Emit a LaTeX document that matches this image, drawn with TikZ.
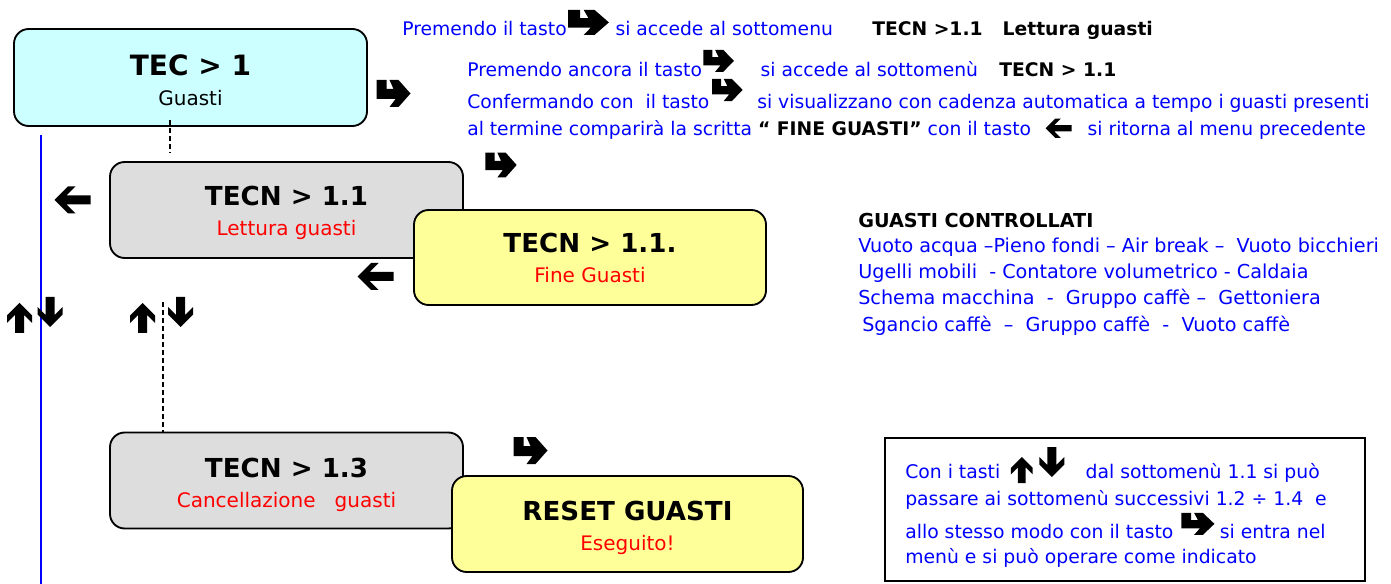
\documentclass[tikz,border=0pt]{standalone}
\usepackage{fontspec}
\setmainfont{DejaVu Sans}
\definecolor{cyanF}{HTML}{CCFFFF}
\definecolor{grayF}{HTML}{DDDDDD}
\definecolor{yelF}{HTML}{FFFF99}
\definecolor{bl}{HTML}{0000FF}
\definecolor{rd}{HTML}{FF0000}
\def\hookpath{(0,0)--(10,0)--(10,9)--(17,9)--(13,0)--(22,0)--(34,13.5)--(22,27)--(13,27)--(19,19)--(0,19)--cycle}
\def\uppath{(0,0)--(12.5,12.5)--(12.5,20)--(4.5,12)--(4.5,30)--(-4.5,30)--(-4.5,12)--(-12.5,20)--(-12.5,12.5)--cycle}
\def\downpath{(0,30)--(12.5,17.5)--(12.5,10)--(4.5,18)--(4.5,0)--(-4.5,0)--(-4.5,18)--(-12.5,10)--(-12.5,17.5)--cycle}
\def\leftpath{(0,13.5)--(13.5,0)--(21,0)--(12,9)--(36,9)--(36,18)--(12,18)--(21,27)--(13.5,27)--cycle}
\newcommand\hookicon[1][]{\tikz[x=0.75pt,y=-0.75pt,#1]\fill[black] \hookpath;}
\newcommand\upicon[1][]{\tikz[x=0.75pt,y=-0.75pt,#1]\fill[black] \uppath;}
\newcommand\downicon[1][]{\tikz[x=0.75pt,y=-0.75pt,#1]\fill[black] \downpath;}
\newcommand\lefticon[1][]{\tikz[x=0.75pt,y=-0.75pt,#1]\fill[black] \leftpath;}
\begin{document}
\begin{tikzpicture}[x=0.75pt,y=-0.75pt,
  box/.style={draw=black, line width=1.4pt, rounded corners=11pt, inner sep=0pt},
  ttl/.style={anchor=base, inner sep=0pt, font=\fontsize{19.6}{22}\selectfont\bfseries},
  sub/.style={anchor=base, inner sep=0pt, font=\fontsize{15}{18}\selectfont},
  txt/.style={anchor=base west, inner sep=0pt, text=bl, font=\fontsize{14.05}{17}\selectfont},
  txtb/.style={anchor=base west, inner sep=0pt, text=black, font=\fontsize{14.05}{17}\selectfont\bfseries},
  gtxt/.style={txt, font=\fontsize{14.4}{17}\selectfont},
  ntxt/.style={txt, font=\fontsize{14.1}{17}\selectfont},
  dash line/.style={draw=black, line width=1.1pt, dash pattern=on 3.5pt off 2.5pt},
  hookpic/.pic={\fill[black,shift={(-17,-13.5)}] \hookpath;},
  uppic/.pic={\fill[black,shift={(0,-15)}] \uppath;},
  downpic/.pic={\fill[black,shift={(0,-15)}] \downpath;},
  leftpic/.pic={\fill[black,shift={(-18,-13.5)}] \leftpath;}
]
\useasboundingbox[fill=white] (0,0) rectangle (1391,584);

% blue vertical line
\coordinate (bA) at (41,135);
\coordinate (bB) at (41,584);
\draw[bl, line width=1.5pt] (bA) -- (bB);

% TEC > 1
\node[box, fill=cyanF, minimum width=264.75pt, minimum height=72.75pt] (tec) at (190.5,77.5) {};
\node[ttl, font=\fontsize{21}{24}\selectfont\bfseries] (tecT) at (190.5,76) {TEC > 1};
\node[sub] (tecS) at (190.5,106) {Guasti};

% dashed connector 1
\coordinate (d1a) at (170,120);
\coordinate (d1b) at (170,153);
\draw[dash line] (d1a) -- (d1b);

% TECN > 1.1
\node[box, fill=grayF, minimum width=264.75pt, minimum height=72pt] (t11) at (286.5,210) {};
\node[ttl] (t11T) at (286.5,206) {TECN > 1.1};
\node[sub, text=rd] (t11S) at (286.5,236) {Lettura guasti};

% TECN > 1.1.
\node[box, fill=yelF, minimum width=264pt, minimum height=71.25pt] (t11f) at (590,257.5) {};
\node[ttl] (t11fT) at (590,253) {TECN > 1.1.};
\node[sub, text=rd] (t11fS) at (590,283) {Fine Guasti};

% dashed connector 2
\coordinate (d2a) at (163,302);
\draw[dash line] (d2a) -- (163,432);

% TECN > 1.3
\node[box, fill=grayF, minimum width=264.75pt, minimum height=72pt] (t13) at (286.5,480.5) {};
\node[ttl] (t13T) at (286.5,477) {TECN > 1.3};
\node[sub, text=rd] (t13S) at (286.5,507) {Cancellazione\ \ \ guasti};

% RESET GUASTI
\node[box, fill=yelF, minimum width=263.25pt, minimum height=72pt] (rst) at (627.5,524) {};
\node[ttl] (rstT) at (627.5,520) {RESET GUASTI};
\node[sub, text=rd] (rstS) at (627.5,550) {Eseguito!};

% standalone icons
\pic at (393.5,93.5) {hookpic};
\pic[scale=0.92] at (501,165) {hookpic};
\pic at (530.5,450.5) {hookpic};
\pic at (72.5,200) {leftpic};
\pic at (375.5,276.5) {leftpic};
\pic at (19.5,318) {uppic};
\pic at (50,312) {downpic};
\pic at (142.5,318) {uppic};
\pic at (180.5,312) {downpic};

% top explanatory text
\node[txt] (l1) at (402,36) {Premendo il tasto\hspace{1pt}\hookicon[xscale=1.2,yscale=0.93,baseline=-19.6pt]\hspace{5pt}si accede al sottomenu};
\node[txtb] (l1b) at (872,36) {TECN >1.1\hspace{15pt}Lettura guasti};
\node[txt] (l2) at (467,77) {Premendo ancora il tasto\hspace{1pt}\hookicon[xscale=0.9,yscale=0.82,baseline=-20.4pt]\hspace{20pt}si accede al sottomenù\hspace{16pt}{\color{black}\bfseries TECN > 1.1}};
\node[txt] (l3) at (467,109) {Confermando con\ \ il tasto\hspace{2pt}\hookicon[xscale=0.9,yscale=0.82,baseline=-22.6pt]\hspace{11pt}si visualizzano con cadenza automatica a tempo i guasti presenti};
\node[txt] (l4) at (467,136) {al termine comparirà la scritta {\color{black}\bfseries “ FINE GUASTI”} con il tasto\hspace{11pt}\lefticon[scale=0.72,baseline=-13.1pt]\hspace{12pt}si ritorna al menu precedente};

% guasti controllati
\node[txtb, font=\fontsize{14.4}{17}\selectfont\bfseries] (g0) at (858,228) {GUASTI CONTROLLATI};
\node[gtxt] (g1) at (858,253) {Vuoto acqua –Pieno fondi – Air break –\ \ Vuoto bicchieri};
\node[gtxt] (g2) at (858,279) {Ugelli mobili\ \ - Contatore volumetrico - Caldaia};
\node[gtxt] (g3) at (858,305) {Schema macchina\ \ -\ \ Gruppo caffè –\ \ Gettoniera};
\node[gtxt] (g4) at (862,331) {Sgancio caffè\ \ –\ \ Gruppo caffè\ \ -\ \ Vuoto caffè};

% note box
\node[draw=black, line width=1.5pt, minimum width=360pt, minimum height=107.25pt, inner sep=0pt] (note) at (1125,509.5) {};
\node[ntxt] (n1) at (905,478) {Con i tasti\hspace{8pt}\upicon[scale=0.87,baseline=-15.8pt]\hspace{5pt}\downicon[baseline=-23.25pt]\hspace{16pt}dal sottomenù 1.1 si può};
\node[ntxt] (n2) at (905,505) {passare ai sottomenù successivi 1.2 ÷ 1.4\ \ e};
\node[ntxt] (n3) at (905,538) {allo stesso modo con il tasto\hspace{6pt}\hookicon[xscale=0.97,yscale=0.82,baseline=-18.9pt]\hspace{4pt}si entra nel};
\node[ntxt] (n4) at (905,563) {menù e si può operare come indicato};
\end{tikzpicture}
\end{document}
